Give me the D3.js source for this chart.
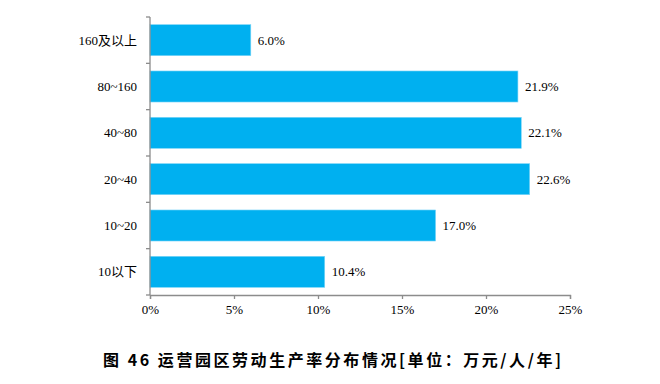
<!DOCTYPE html>
<html>
<head>
<meta charset="utf-8">
<script src="https://cdn.jsdelivr.net/npm/d3@7"></script>
<style>
  body { margin: 0; background: #fff; }
  text { font-family: "Liberation Serif", "Noto Sans CJK SC", serif; fill: #000; }
  .title { font-family: "Noto Sans CJK SC", sans-serif; font-weight: bold; }
</style>
</head>
<body>
<div id="chart"></div>
<script>
// Data
const categories = ["160及以上", "80~160", "40~80", "20~40", "10~20", "10以下"];
const values = [6.0, 21.9, 22.1, 22.6, 17.0, 10.4];
const xTicks = [0, 5, 10, 15, 20, 25];

// Dimensions
const W = 660, H = 384;
const margin = { top: 17, right: 90, bottom: 89, left: 150 };
const width = W - margin.left - margin.right;
const height = H - margin.top - margin.bottom;

const svg = d3.select("#chart")
    .append("svg")
    .attr("width", W)
    .attr("height", H);

const g = svg.append("g")
    .attr("transform", `translate(${margin.left},${margin.top})`);

const x = d3.scaleLinear().domain([0, 25]).range([0, width]);
const y = d3.scaleBand().domain(categories).range([0, height]).paddingInner(0.33).paddingOuter(0.165);
const yb = d3.scaleBand().domain(categories).range([0, height]);

// Bars
g.selectAll(".bar")
    .data(categories)
    .enter()
    .append("rect")
    .attr("class", "bar")
    .attr("x", 0)
    .attr("y", d => y(d))
    .attr("width", (d, i) => x(values[i]))
    .attr("height", y.bandwidth())
    .attr("fill", "#00B0F0")
    .attr("stroke", "#7fd6f7")
    .attr("stroke-width", 0.6);

// Value labels
g.selectAll(".val")
    .data(categories)
    .enter()
    .append("text")
    .attr("x", (d, i) => x(values[i]) + 7)
    .attr("y", d => y(d) + y.bandwidth() / 2)
    .attr("dy", "0.35em")
    .style("font-size", "13px")
    .text((d, i) => values[i].toFixed(1) + "%");

// Y axis line and ticks at band boundaries
const axisColor = "#8c8c8c";
g.append("line")
    .attr("x1", 0).attr("x2", 0)
    .attr("y1", 0).attr("y2", height)
    .attr("stroke", axisColor).attr("stroke-width", 1.3);

const bounds = categories.map(d => yb(d)).concat([height]);
g.selectAll(".ytick")
    .data(bounds)
    .enter()
    .append("line")
    .attr("x1", -4).attr("x2", 0)
    .attr("y1", d => d).attr("y2", d => d)
    .attr("stroke", axisColor).attr("stroke-width", 1.3);

g.selectAll(".ylab")
    .data(categories)
    .enter()
    .append("text")
    .attr("x", -13)
    .attr("y", d => yb(d) + yb.bandwidth() / 2)
    .attr("dy", "0.35em")
    .attr("text-anchor", "end")
    .style("font-size", "13px")
    .text(d => d);

// X axis
const xAxis = d3.axisBottom(x)
    .tickValues(xTicks)
    .tickFormat(d => d + "%")
    .tickSize(4)
    .tickPadding(6);

const xg = g.append("g")
    .attr("transform", `translate(0,${height})`)
    .call(xAxis);
xg.select(".domain").attr("stroke", axisColor).attr("stroke-width", 1.3);
xg.selectAll(".tick line").attr("stroke", axisColor).attr("stroke-width", 1.3);
xg.selectAll(".tick text")
    .style("font-family", "'Liberation Serif', serif")
    .style("font-size", "13px")
    .attr("fill", "#000");

// Caption
svg.append("text")
    .attr("class", "title")
    .attr("x", 103)
    .attr("y", 366)
    .attr("textLength", 458)
    .attr("lengthAdjust", "spacing")
    .style("font-size", "16px")
    .text("图 46  运营园区劳动生产率分布情况[单位：万元/人/年]");
</script>
</body>
</html>
